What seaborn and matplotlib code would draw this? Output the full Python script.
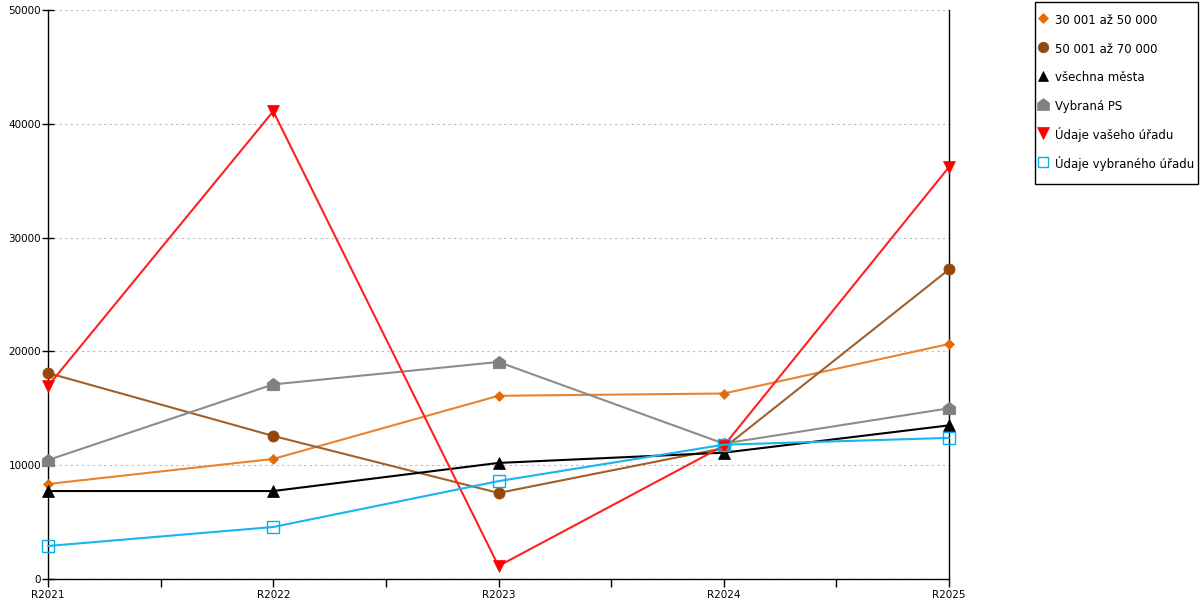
import matplotlib
matplotlib.use("Agg")
import matplotlib.pyplot as plt
from matplotlib.lines import Line2D
from matplotlib.patches import Rectangle
from matplotlib.ticker import MultipleLocator
import seaborn as sns
import pandas as pd

years = ["R2021", "R2022", "R2023", "R2024", "R2025"]
s_30_50 = [8350, 10550, 16100, 16300, 20650]
s_50_70 = [18100, 12570, 7560, 11500, 27200]
s_all = [7730, 7730, 10200, 11100, 13500]
s_ps = [10450, 17100, 19070, 11900, 15000]
s_vas = [16960, 41100, 1140, 11700, 36200]
s_vyb = [2900, 4570, 8600, 11800, 12400]

names = ["30 001 až 50 000", "50 001 až 70 000", "všechna města",
         "Vybraná PS", "Údaje vašeho úřadu", "Údaje vybraného úřadu"]
values = [s_30_50, s_50_70, s_all, s_ps, s_vas, s_vyb]

house = [(-1, -1), (1, -1), (1, 0.25), (0, 1), (-1, 0.25), (-1, -1)]
styles = [
    dict(color="#E36C0A", marker="D", ms=5, mfc="#E36C0A", mec="#E36C0A"),
    dict(color="#97470A", marker="o", ms=8, mfc="#97470A", mec="#97470A"),
    dict(color="#000000", marker="^", ms=8, mfc="#000000", mec="#000000"),
    dict(color="#808080", marker=house, ms=9, mfc="#808080", mec="#808080"),
    dict(color="#FF0000", marker="v", ms=9, mfc="#FF0000", mec="#FF0000"),
    dict(color="#00B0F0", marker="s", ms=8, mfc="none", mec="#00B0F0"),
]
line_colors = ["#E8832F", "#A0602A", "#000000", "#8C8C8C", "#FF2020", "#18B4EE"]

rows = []
for n, v in zip(names, values):
    for i, y in enumerate(v):
        rows.append(dict(series=n, x=i, value=y))
df = pd.DataFrame(rows)

sns.set_style("white")
plt.rcParams['font.family'] = ['DejaVu Sans']
plt.rcParams['text.color'] = 'black'
plt.rcParams['xtick.color'] = 'black'
plt.rcParams['ytick.color'] = 'black'

fig = plt.figure(figsize=(12, 6), dpi=100)
ax = fig.add_axes([48 / 1200, 1 - 579 / 600, (949 - 48) / 1200, (579 - 10) / 600])

for n, st, lc in zip(names, styles, line_colors):
    sub = df[df.series == n]
    sns.lineplot(data=sub, x="x", y="value", ax=ax, color=lc, lw=1.5,
                 marker=st["marker"], markersize=st["ms"],
                 markerfacecolor=st["mfc"], markeredgecolor=st["mec"],
                 markeredgewidth=1.0 if st["mfc"] == "none" else 0.5,
                 legend=False, zorder=3, clip_on=False)

ax.set_xlim(0, len(years) - 1)
ax.set_ylim(0, 50000)
ax.set_xticks(range(len(years)))
ax.set_xticklabels(years)
ax.xaxis.set_minor_locator(MultipleLocator(0.5))
ax.set_yticks(range(0, 50001, 10000))
ax.set_yticklabels([str(t) for t in range(0, 50001, 10000)])
ax.tick_params(axis="x", which="major", direction="out", length=6, width=1,
               color="black", labelcolor="black", labelsize=7.5, pad=2, bottom=True)
ax.tick_params(axis="x", which="minor", direction="out", length=6, width=1,
               color="black", bottom=True)
ax.tick_params(axis="y", which="major", direction="inout", length=8, width=1,
               color="black", labelcolor="black", labelsize=7.5, pad=1, left=True)
ax.set_xlabel("")
ax.set_ylabel("")
ax.yaxis.grid(True, linestyle=(0, (2, 3)), color="#BBBBBB", lw=0.8)
ax.xaxis.grid(False)
for side in ["left", "right", "bottom"]:
    ax.spines[side].set_visible(True)
    ax.spines[side].set_color("black")
    ax.spines[side].set_linewidth(1.0)
ax.spines["top"].set_visible(False)

handles = [Line2D([], [], linestyle="none", marker=st["marker"],
                  markersize=st["ms"] * 0.95, markerfacecolor=st["mfc"],
                  markeredgecolor=st["mec"],
                  markeredgewidth=1.0 if st["mfc"] == "none" else 0.5)
           for st in styles]
leg = fig.legend(handles, names, loc="upper left",
                 bbox_to_anchor=(1038 / 1200, 1 - 12 / 600),
                 frameon=False, fontsize=8.5,
                 handlelength=0.8, handleheight=1.7, handletextpad=0.6,
                 labelspacing=1.09, borderpad=0, borderaxespad=0)
for t in leg.get_texts():
    t.set_color("black")
fig.patches.append(Rectangle((1035 / 1200, 1 - 184 / 600), 163 / 1200, 182 / 600,
                             transform=fig.transFigure, fill=False,
                             edgecolor="black", linewidth=1.0))

fig.savefig("out.png", dpi=100)
